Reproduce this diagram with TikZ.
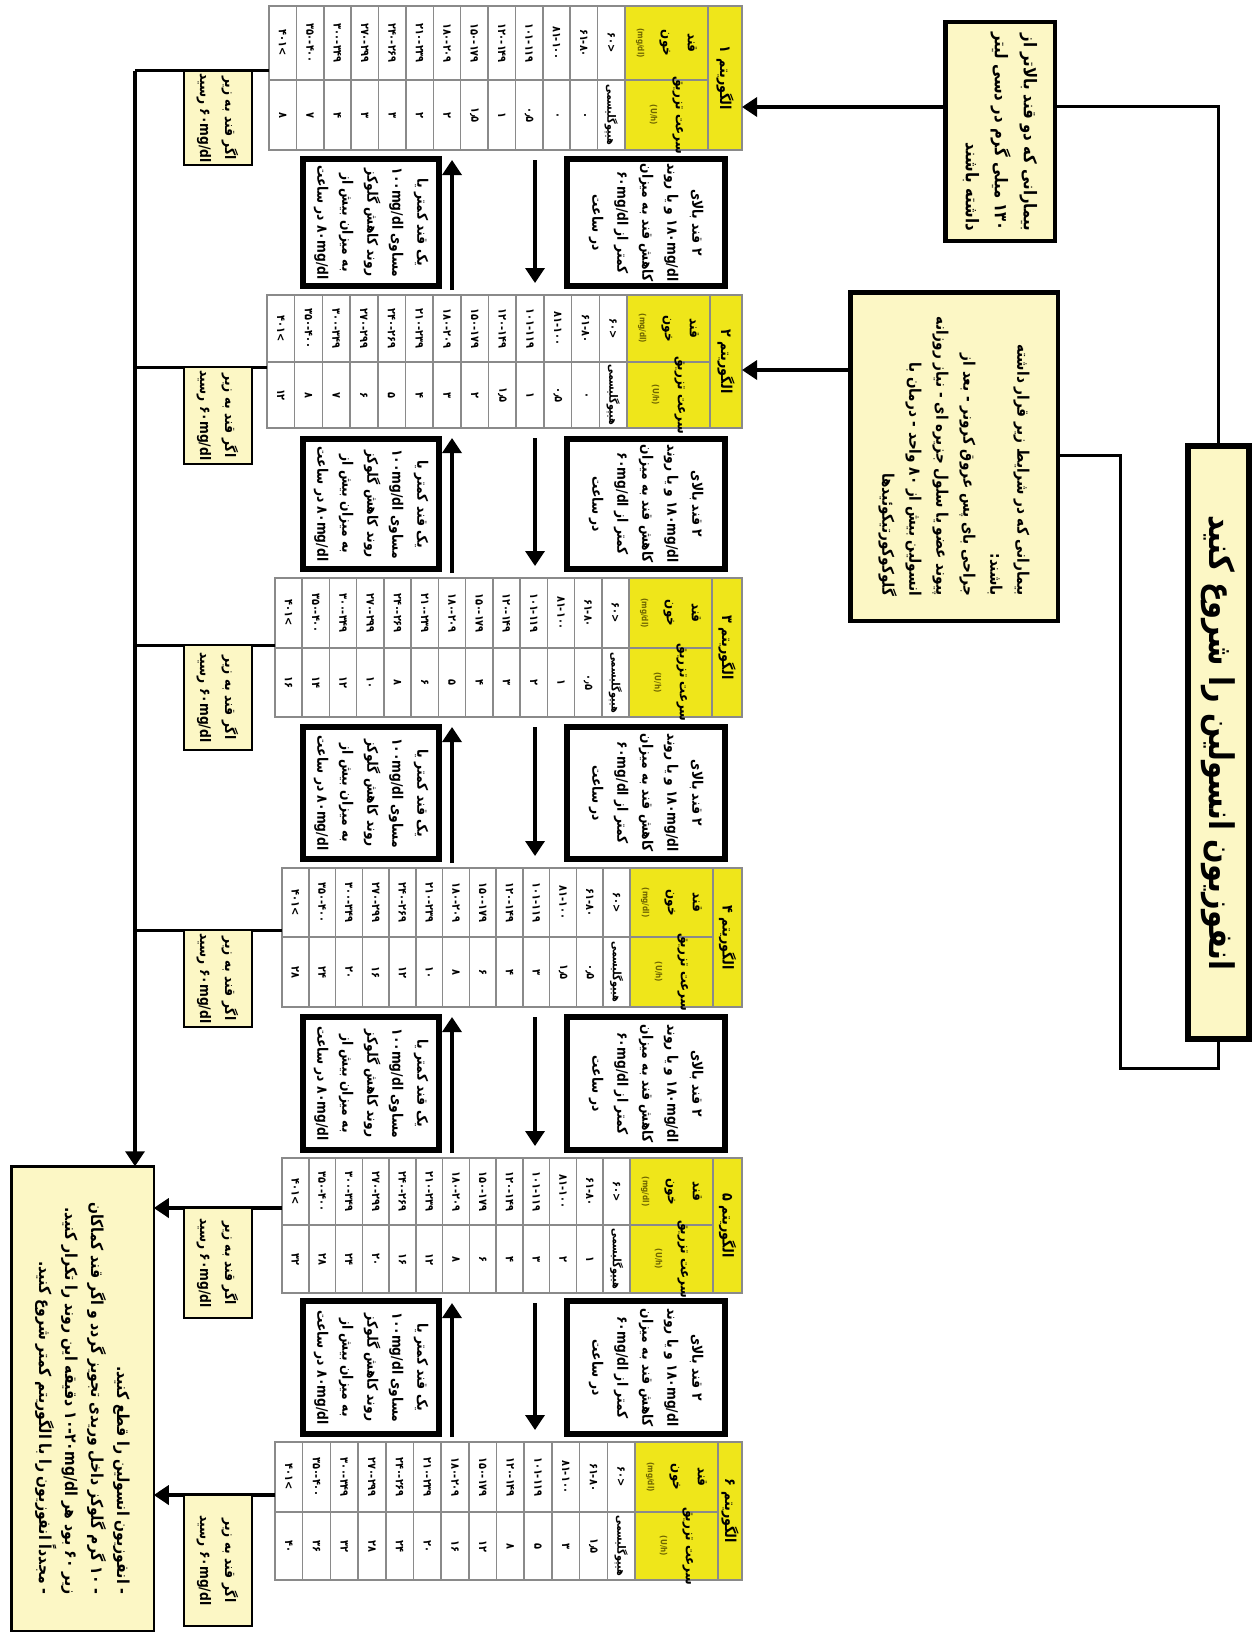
\documentclass[tikz,border=0pt]{standalone}
\usepackage{fontspec}
\usetikzlibrary{arrows.meta,calc}
\TeXXeTstate=1
\newfontfamily\fa[Script=Arabic,FakeStretch=0.85]{DejaVu Sans}
\newcommand{\Rtx}[1]{\beginR #1\endR}
\newcommand{\Ltx}[1]{\beginL #1\endL}
\definecolor{boxy}{HTML}{FCF7C5}
\definecolor{taby}{HTML}{EFE61A}
\definecolor{gridc}{HTML}{8A8A8A}
\definecolor{olivec}{HTML}{6E6400}
\tikzset{
 every node/.style={inner sep=0pt, outer sep=0pt},
 conn/.style={line width=3pt},
 arr/.style={line width=3.5pt,-{Triangle[length=15pt,width=19pt]}},
 ybox/.style={draw=black, fill=boxy},
 pairbox/.style={draw=black, fill=white, line width=6pt},
 tabframe/.style={draw=gridc, line width=1.8pt},
 gridl/.style={draw=gridc, line width=1.5pt},
 rt/.style={rotate=-90, text=black},
 bigtxt/.style={font=\fa\bfseries\fontsize{34}{40}\selectfont},
 trtxt/.style={font=\fa\bfseries\fontsize{17.5}{29}\selectfont, align=right},
 boxtxt/.style={font=\fa\bfseries\fontsize{16}{27}\selectfont, align=right},
 pairtxt/.style={font=\fa\bfseries\fontsize{14.5}{25}\selectfont, align=center},
 iftxt/.style={font=\fa\bfseries\fontsize{14.5}{25}\selectfont, align=center},
 fintxt/.style={font=\fa\bfseries\fontsize{16.5}{26}\selectfont, align=right},
 hdtxt/.style={font=\fa\bfseries\fontsize{15}{17}\selectfont},
 subtxt/.style={font=\fa\bfseries\fontsize{14}{25}\selectfont, align=center},
 celltxt/.style={font=\fa\bfseries\fontsize{11.5}{13}\selectfont},
}
% #1 name, #2 left, #3 top, #4 bottom, #5 split, #6 yellow start, #7 number, #8 values
\newcommand{\algtab}[8]{%
 \pgfmathsetmacro{\cw}{(#6-#2)/13}%
 \pgfmathsetmacro{\hx}{#6+83}%
 \fill[taby] (#6,-#3) rectangle (742,-#4);
 \foreach \k in {1,...,12}{\draw[gridl] ({#2+\k*\cw},-#3) -- ({#2+\k*\cw},-#4);}
 \draw[gridl] (#6,-#3) -- (#6,-#4);
 \draw[gridl] (\hx,-#3) -- (\hx,-#4);
 \draw[gridl] (#2,-#5) -- (\hx,-#5);
 \node[tabframe, minimum width={742-#2}, minimum height={#4-#3}, anchor=north west] (#1) at (#2,-#3) {};
 \node[rt,hdtxt] (#1hd) at ({(\hx+742)/2},{-(#3+#4)/2}) {\Rtx{الگوریتم #7}};
 \node[rt,subtxt] (#1sg) at ({(#6+\hx)/2},{-(#3+#5)/2}) {\Rtx{قند}\\\Rtx{خون}\\{\color{olivec}\fontsize{8.5}{10}\selectfont (mg/dl)}};
 \node[rt,subtxt] (#1sr) at ({(#6+\hx)/2},{-(#5+#4)/2}) {\Rtx{سرعت تزریق}\\{\color{olivec}\fontsize{8.5}{10}\selectfont (U/h)}};
 \foreach \g [count=\i] in {<۶۰,۶۱-۸۰,۸۱-۱۰۰,۱۰۱-۱۱۹,۱۲۰-۱۴۹,۱۵۰-۱۷۹,۱۸۰-۲۰۹,۲۱۰-۲۳۹,۲۴۰-۲۶۹,۲۷۰-۲۹۹,۳۰۰-۳۴۹,۳۵۰-۴۰۰,>۴۰۱}{%
   \node[rt,celltxt] (#1g\i) at ({#6-(\i-0.5)*\cw},{-(#3+#5)/2}) {\g};}
 \foreach \v [count=\i] in {#8}{%
   \node[rt,celltxt] (#1v\i) at ({#6-(\i-0.5)*\cw},{-(#5+#4)/2}) {\v};}
}
\begin{document}
\begin{tikzpicture}[x=1pt,y=1pt]
\useasboundingbox (0,0) rectangle (1253,-1635);
\fill[white] (0,0) rectangle (1253,-1635);

% ---------- tables ----------
\algtab{T1}{269}{6}{150}{80}{625}{۱}{هیپوگلیسمی,۰,۰,۰٫۵,۱,۱٫۵,۲,۲,۳,۳,۴,۷,۸}
\algtab{T2}{267}{295}{428}{362}{627}{۲}{هیپوگلیسمی,۰,۰٫۵,۱,۱٫۵,۲,۳,۴,۵,۶,۷,۸,۱۲}
\algtab{T3}{275}{578}{717}{648}{629}{۳}{هیپوگلیسمی,۰٫۵,۱,۲,۳,۴,۵,۶,۸,۱۰,۱۲,۱۴,۱۶}
\algtab{T4}{282}{868}{1007}{937}{630}{۴}{هیپوگلیسمی,۰٫۵,۱٫۵,۳,۴,۶,۸,۱۰,۱۲,۱۶,۲۰,۲۴,۲۸}
\algtab{T5}{282}{1158}{1293}{1225}{630}{۵}{هیپوگلیسمی,۱,۲,۳,۴,۶,۸,۱۲,۱۶,۲۰,۲۴,۲۸,۳۲}
\algtab{T6}{275}{1442}{1580}{1512}{635}{۶}{هیپوگلیسمی,۱٫۵,۳,۵,۸,۱۲,۱۶,۲۰,۲۴,۲۸,۳۲,۳۶,۴۰}

% ---------- right column boxes ----------
\node[ybox, line width=6pt, minimum width=61, minimum height=593] (start) at (1218,-742.5) {};
\node[rt,bigtxt] (startT) at (start) {\Rtx{انفوزیون انسولین را شروع کنید}};

\node[ybox, line width=4.5pt, minimum width=109.5, minimum height=218.5] (tr) at (1000,-131.5) {};
\node[rt,trtxt] (trT) at (tr) {\Rtx{بیمارانی که دو قند بالاتر از}\\\Rtx{۱۳۰ میلی گرم در دسی لیتر}\\\Rtx{داشته باشند}};

\node[ybox, line width=4.5pt, minimum width=207.5, minimum height=328.5] (mr) at (954,-456.5) {};
\node[rt,boxtxt] (mrT) at (mr) {\Rtx{بیمارانی که در شرایط زیر قرار داشته}\\\Rtx{باشند:}\\\Rtx{جراحی بای پس عروق کرونر - بعد از}\\\Rtx{پیوند عضو یا سلول جزیره ای - نیاز روزانه}\\\Rtx{انسولین بیش از ۸۰ واحد - درمان با}\\\Rtx{گلوکوکورتیکوئیدها}};

% ---------- final box ----------
\node[ybox, line width=2.5pt, minimum width=142.5, minimum height=464.5] (fin) at (82.5,-1398.5) {};
\node[rt,fintxt] (finT) at (fin) {\Rtx{- انفوزیون انسولین را قطع کنید.}\\\Rtx{- ۱۰ گرم گلوکز داخل وریدی تجویز گردد و اگر قند کماکان}\\\Rtx{زیر ۶۰ بود هر \Ltx{۱۰-۲۰mg/dl} دقیقه این روند را تکرار کنید.}\\\Rtx{- مجدداً انفوزیون را با الگوریتم کمتر شروع کنید.}};

% ---------- connectors on the right ----------
\coordinate (c1) at (1218,-107);
\draw[conn] (start.north) -- (c1) -- (c1 -| tr.east);
\draw[arr] (c1 -| tr.west) -- (c1 -| T1.east);
\coordinate (c2) at (1218,-1068);
\coordinate (c3) at (1120,-1068);
\coordinate (c4) at (1120,-455);
\draw[conn] (start.south) -- (c2) -- (c3) -- (c4) -- (c4 -| mr.east);
\coordinate (c5) at (0,-370);
\draw[arr] (c5 -| mr.west) -- (c5 -| T2.east);

% ---------- trunk on the left ----------
\coordinate (k1) at (135,-71);
\coordinate (k2) at (135,-367);
\coordinate (k3) at (135,-645);
\coordinate (k4) at (135,-930);
\coordinate (k5) at (0,-1208);
\coordinate (k6) at (0,-1495);
\draw[conn] (k1 -| T1.west) -- (k1);
\draw[conn] (k2 -| T2.west) -- (k2);
\draw[conn] (k3 -| T3.west) -- (k3);
\draw[conn] (k4 -| T4.west) -- (k4);
\draw[arr] (k1) -- (k1 |- fin.north);
\draw[arr] (k5 -| T5.west) -- (k5 -| fin.east);
\draw[arr] (k6 -| T6.west) -- (k6 -| fin.east);

% ---------- "if glucose < 60" boxes ----------
\foreach \n/\yc/\hh in {1/118/94, 2/415.5/97, 3/697.5/105, 4/978.5/97, 5/1263/110, 6/1560.5/131}{
  \node[ybox, line width=2pt, minimum width=68, minimum height=\hh] (if\n) at (217.5,-\yc) {};
  \node[rt,iftxt] (ift\n) at (if\n) {\Rtx{اگر قند به زیر}\\\Rtx{\Ltx{۶۰mg/dl} رسید}};
}

% ---------- pair boxes between tables ----------
\foreach \n/\yc/\hh in {1/222.5/127, 2/504/130, 3/793/132, 4/1083.5/133, 5/1367.5/133}{
  \node[pairbox, minimum width=158, minimum height=\hh] (pr\n) at (646,-\yc) {};
  \node[rt,pairtxt] (prt\n) at (pr\n) {\Rtx{۲ قند بالای}\\\Rtx{\Ltx{۱۸۰mg/dl} و یا روند}\\\Rtx{کاهش قند به میزان}\\\Rtx{کمتر از \Ltx{۶۰mg/dl}}\\\Rtx{در ساعت}};
  \node[pairbox, minimum width=136, minimum height=\hh] (pl\n) at (371,-\yc) {};
  \node[rt,pairtxt] (plt\n) at (pl\n) {\Rtx{یک قند کمتر یا}\\\Rtx{مساوی \Ltx{۱۰۰mg/dl}}\\\Rtx{روند کاهش گلوکز}\\\Rtx{به میزان بیش از}\\\Rtx{\Ltx{۸۰mg/dl} در ساعت}};
}

% ---------- arrows between tables ----------
\coordinate (dnx) at (535,0);
\coordinate (upx) at (452,0);
\foreach \a/\b in {T1/T2,T2/T3,T3/T4,T4/T5,T5/T6}{
  \draw[arr, shorten <=10pt, shorten >=12pt] (\a.south -| dnx) -- (\b.north -| dnx);
  \draw[arr, shorten <=5pt, shorten >=10pt] (\b.north -| upx) -- (\a.south -| upx);
}
\end{tikzpicture}
\end{document}
